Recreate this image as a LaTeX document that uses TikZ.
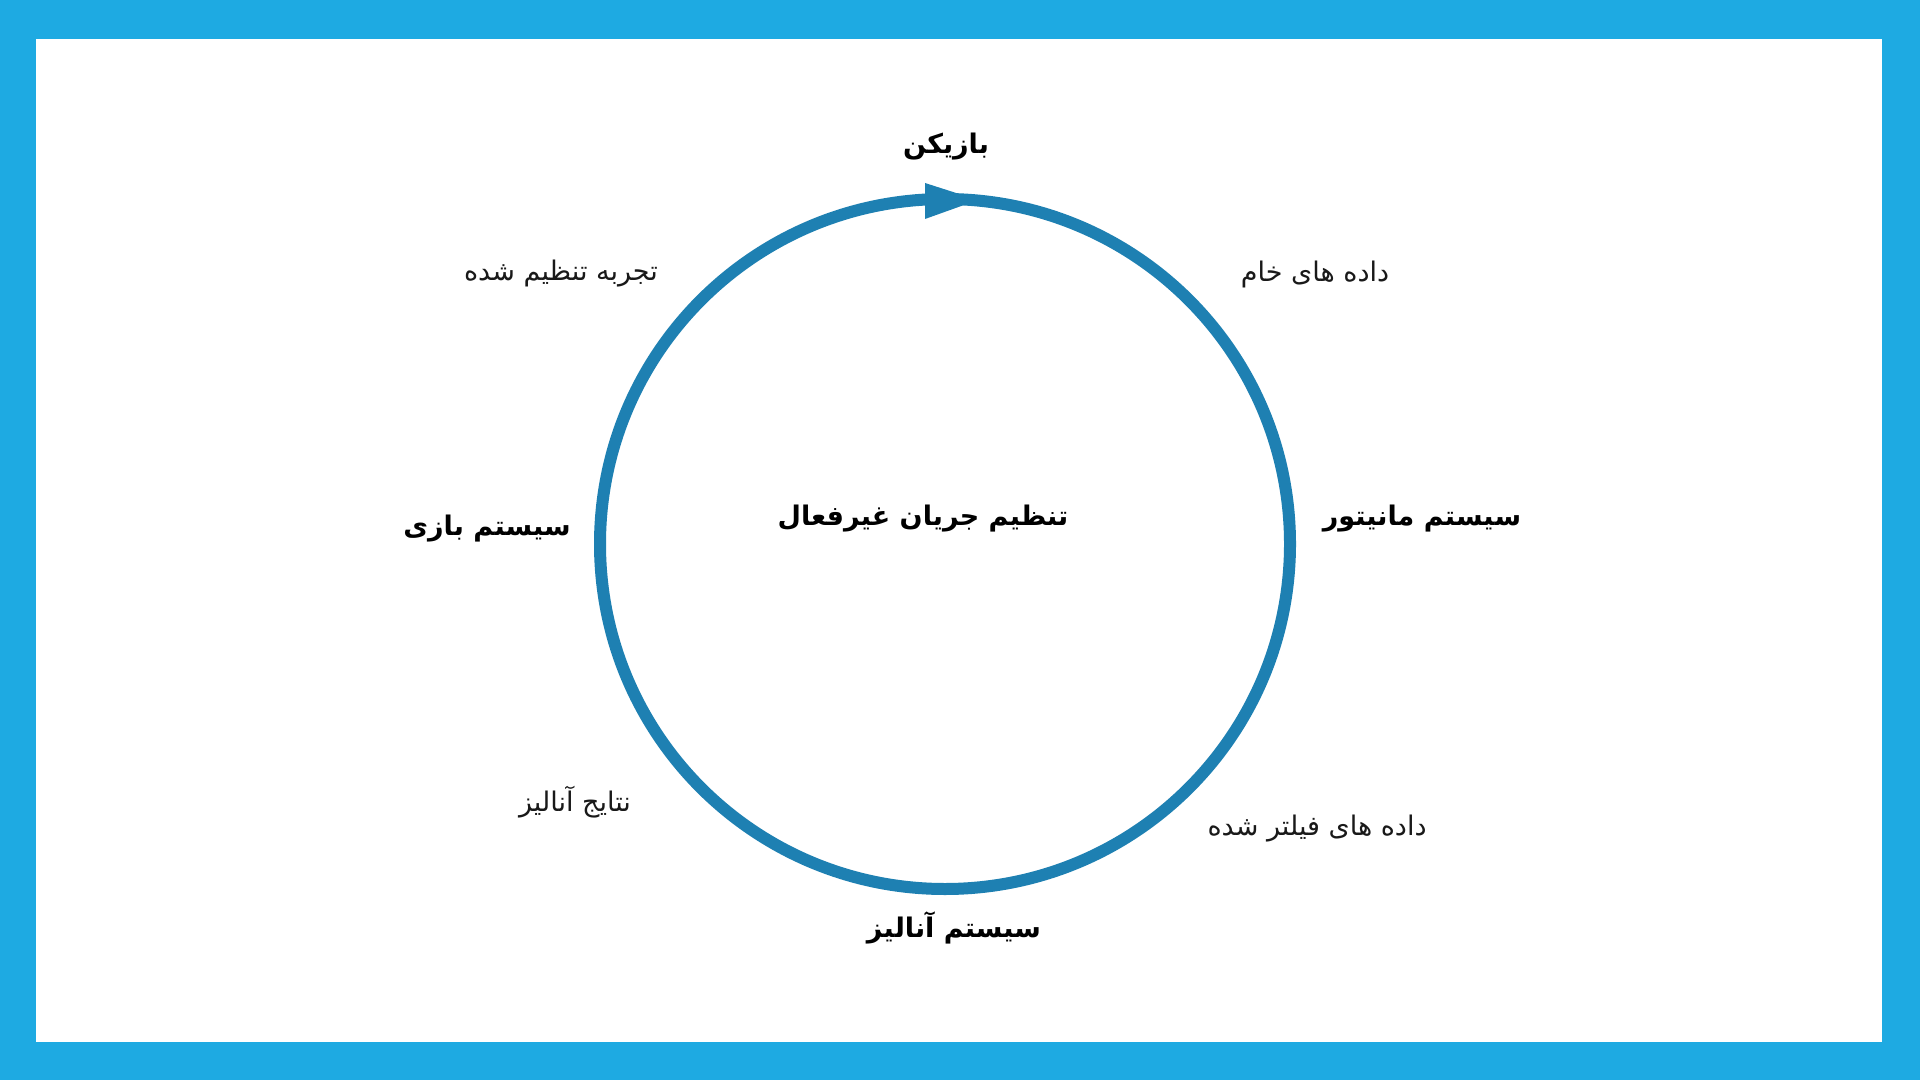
\documentclass[tikz,border=0pt]{standalone}
\usepackage{fontspec}
\TeXXeTstate=1
\newfontfamily\arabicfont[Script=Arabic]{DejaVu Sans}
\usetikzlibrary{calc}
\definecolor{framecol}{RGB}{30,170,226}
\definecolor{ringcol}{RGB}{30,128,178}
\tikzset{
  boldlabel/.style={font=\arabicfont\bfseries\fontsize{13.5}{16}\selectfont, text=black, inner sep=0pt},
  plainlabel/.style={font=\arabicfont\fontsize{13.5}{16}\selectfont, text=black!90, inner sep=0pt},
  ring/.style={draw=ringcol, line width=6pt},
}
\begin{document}
\begin{tikzpicture}[x=0.5pt,y=-0.5pt]
\useasboundingbox (0,0) rectangle (1920,1080);
\fill[framecol] (0,0) rectangle (1920,1080);
\fill[white] (36,39) rectangle (1882,1042);
\coordinate (c) at (945,544);
\draw[ring] (c) circle[radius=172.5pt];
\fill[ringcol] (925,183) -- (978,200) -- (925,219) -- cycle;
\node[boldlabel] (player) at (946,147) {\beginR بازیکن\endR};
\node[plainlabel] (raw) at (1315,274) {\beginR داده های خام\endR};
\node[boldlabel] (monitor) at (1422,519) {\beginR سیستم مانیتور\endR};
\node[plainlabel] (filtered) at (1317,829) {\beginR داده های فیلتر شده\endR};
\node[boldlabel] (analysis) at (954,928) {\beginR سیستم آنالیز\endR};
\node[plainlabel] (results) at (575,802) {\beginR نتایج آنالیز\endR};
\node[boldlabel] (game) at (487,529) {\beginR سیستم بازی\endR};
\node[plainlabel] (tuned) at (561,274) {\beginR تجربه تنظیم شده\endR};
\node[boldlabel] (center) at (923,519) {\beginR تنظیم جریان غیرفعال\endR};
\end{tikzpicture}
\end{document}
